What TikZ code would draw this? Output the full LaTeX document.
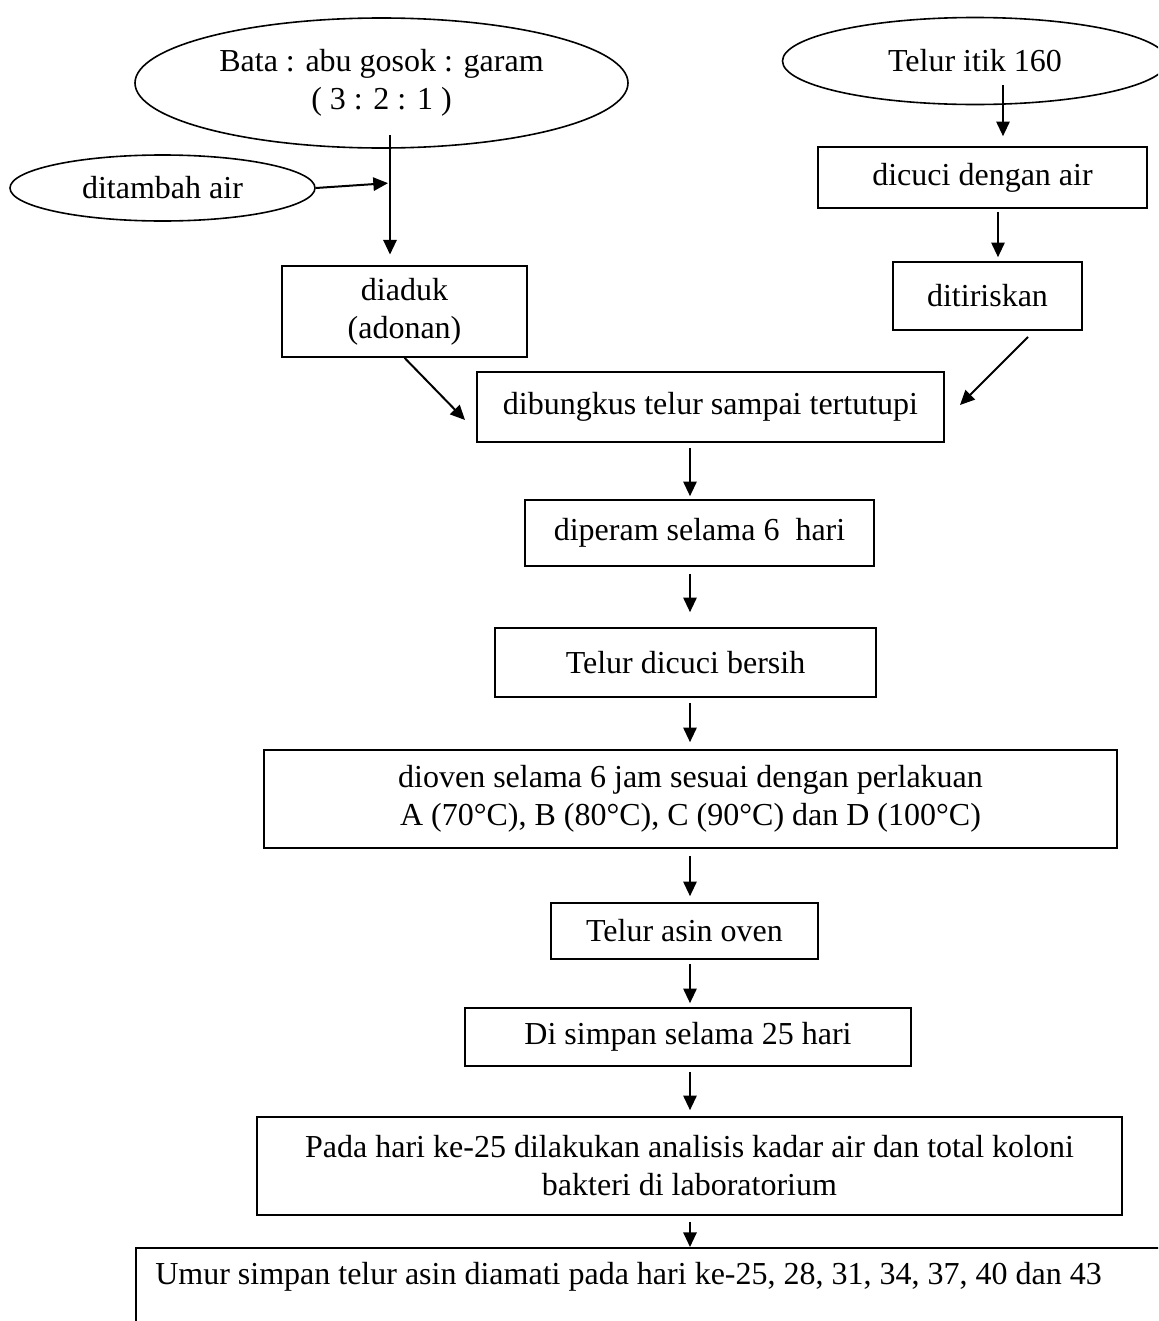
\documentclass[tikz,border=0pt]{standalone}
\usepackage{fontspec}
\setmainfont{Liberation Serif}
\usetikzlibrary{shapes.geometric,arrows.meta}
\tikzset{
  proses/.style={draw, line width=1.2pt, inner sep=0pt, align=center, font=\fontsize{24}{28.5}\selectfont},
  bahan/.style={draw, ellipse, line width=1.2pt, inner sep=0pt, align=center, font=\fontsize{24}{28.5}\selectfont},
  panah/.style={line width=1.5pt, -{Triangle[length=11pt,width=10pt]}, shorten <=0pt, shorten >=0pt},
}
\begin{document}
\begin{tikzpicture}[x=0.75pt,y=0.75pt,yscale=-1,xscale=1]
\useasboundingbox (0,0) rectangle (1158,1321);
\clip (0,0) rectangle (1158,1321);

%Shape: Ellipse [bahan]
\node[bahan, minimum width=369.75pt, minimum height=97.5pt] (bata) at (381.5,83) {Bata : abu gosok : garam\\( 3 : 2 : 1 )};
%Shape: Ellipse [air]
\node[bahan, minimum width=228.75pt, minimum height=49.5pt] (air) at (162.5,188) {ditambah air};
%Shape: Ellipse [telur]
\node[bahan, minimum width=288.75pt, minimum height=65.25pt] (itik) at (975,61) {Telur itik 160};

%Shape: Rectangle
\node[proses, minimum width=183.75pt, minimum height=68.25pt] (aduk) at (404.5,311.5) {diaduk\\(adonan)};
%Shape: Rectangle
\node[proses, minimum width=246.75pt, minimum height=45.75pt] (cuci) at (982.5,177.5) {dicuci dengan air};
%Shape: Rectangle
\node[proses, minimum width=141.75pt, minimum height=51pt] (tiris) at (987.5,296) {ditiriskan};
%Shape: Rectangle
\node[proses, minimum width=350.25pt, minimum height=52.5pt] (bungkus) at (710.5,407) {dibungkus telur sampai tertutupi};
%Shape: Rectangle
\node[proses, minimum width=261.75pt, minimum height=49.5pt] (peram) at (699.5,533) {diperam selama 6\ \ hari};
%Shape: Rectangle
\node[proses, minimum width=285.75pt, minimum height=51.75pt] (bersih) at (685.5,662.5) {Telur dicuci bersih};
%Shape: Rectangle
\node[proses, minimum width=639.75pt, minimum height=73.5pt] (oven) at (690.5,799) {dioven selama 6 jam sesuai dengan perlakuan\\A (70°C), B (80°C), C (90°C) dan D (100°C)};
%Shape: Rectangle
\node[proses, minimum width=200.25pt, minimum height=42pt] (asin) at (684.5,931) {Telur asin oven};
%Shape: Rectangle
\node[proses, minimum width=334.5pt, minimum height=43.5pt] (simpan) at (688,1037) {Di simpan selama 25 hari};
%Shape: Rectangle
\node[proses, minimum width=648.75pt, minimum height=73.5pt] (analisis) at (689.5,1166) {Pada hari ke-25 dilakukan analisis kadar air dan total koloni\\bakteri di laboratorium};
%Shape: Rectangle [cut off at the page edge]
\node[proses, anchor=north west, minimum width=798.75pt, minimum height=84.75pt] (umur) at (135,1247) {};
% Text Node
\node[anchor=west, inner sep=0pt, font=\fontsize{24}{28.5}\selectfont] (umurteks) at (155,1277) {Umur simpan telur asin diamati pada hari ke-25, 28, 31, 34, 37, 40 dan 43};

%Straight Lines [left branch]
\coordinate (campur) at (390,135);
\coordinate (masuk) at (390,183);
\coordinate (tujuanL) at (465,420);
\draw[panah, shorten >=8pt] (campur) -- (campur |- aduk.north);
\draw[panah, shorten >=1.5pt] (air.east) -- (masuk);
\draw[panah] (aduk.south) -- (tujuanL);

%Straight Lines [right branch]
\coordinate (itikbawah) at (1003,85);
\coordinate (kanan) at (998,0);
\coordinate (asalR) at (1028,337);
\coordinate (tujuanR) at (960,405);
\draw[panah, shorten >=7.5pt] (itikbawah) -- (itikbawah |- cuci.north);
\draw[panah, shorten <=2.25pt, shorten >=3pt] (cuci.south -| kanan) -- (tiris.north -| kanan);
\draw[panah] (asalR) -- (tujuanR);

%Straight Lines [main column]
\coordinate (tengah) at (690,0);
\draw[panah, shorten <=3.75pt, shorten >=2.25pt] (bungkus.south -| tengah) -- (peram.north -| tengah);
\draw[panah, shorten <=5.25pt, shorten >=11.25pt] (peram.south -| tengah) -- (bersih.north -| tengah);
\draw[panah, shorten <=3.75pt, shorten >=5.25pt] (bersih.south -| tengah) -- (oven.north -| tengah);
\draw[panah, shorten <=5.25pt, shorten >=4.5pt] (oven.south -| tengah) -- (asin.north -| tengah);
\draw[panah, shorten <=3pt, shorten >=3pt] (asin.south -| tengah) -- (simpan.north -| tengah);
\draw[panah, shorten <=3.75pt, shorten >=4.5pt] (simpan.south -| tengah) -- (analisis.north -| tengah);
\draw[panah, shorten <=4.5pt] (analisis.south -| tengah) -- (umur.north -| tengah);
\end{tikzpicture}
\end{document}
